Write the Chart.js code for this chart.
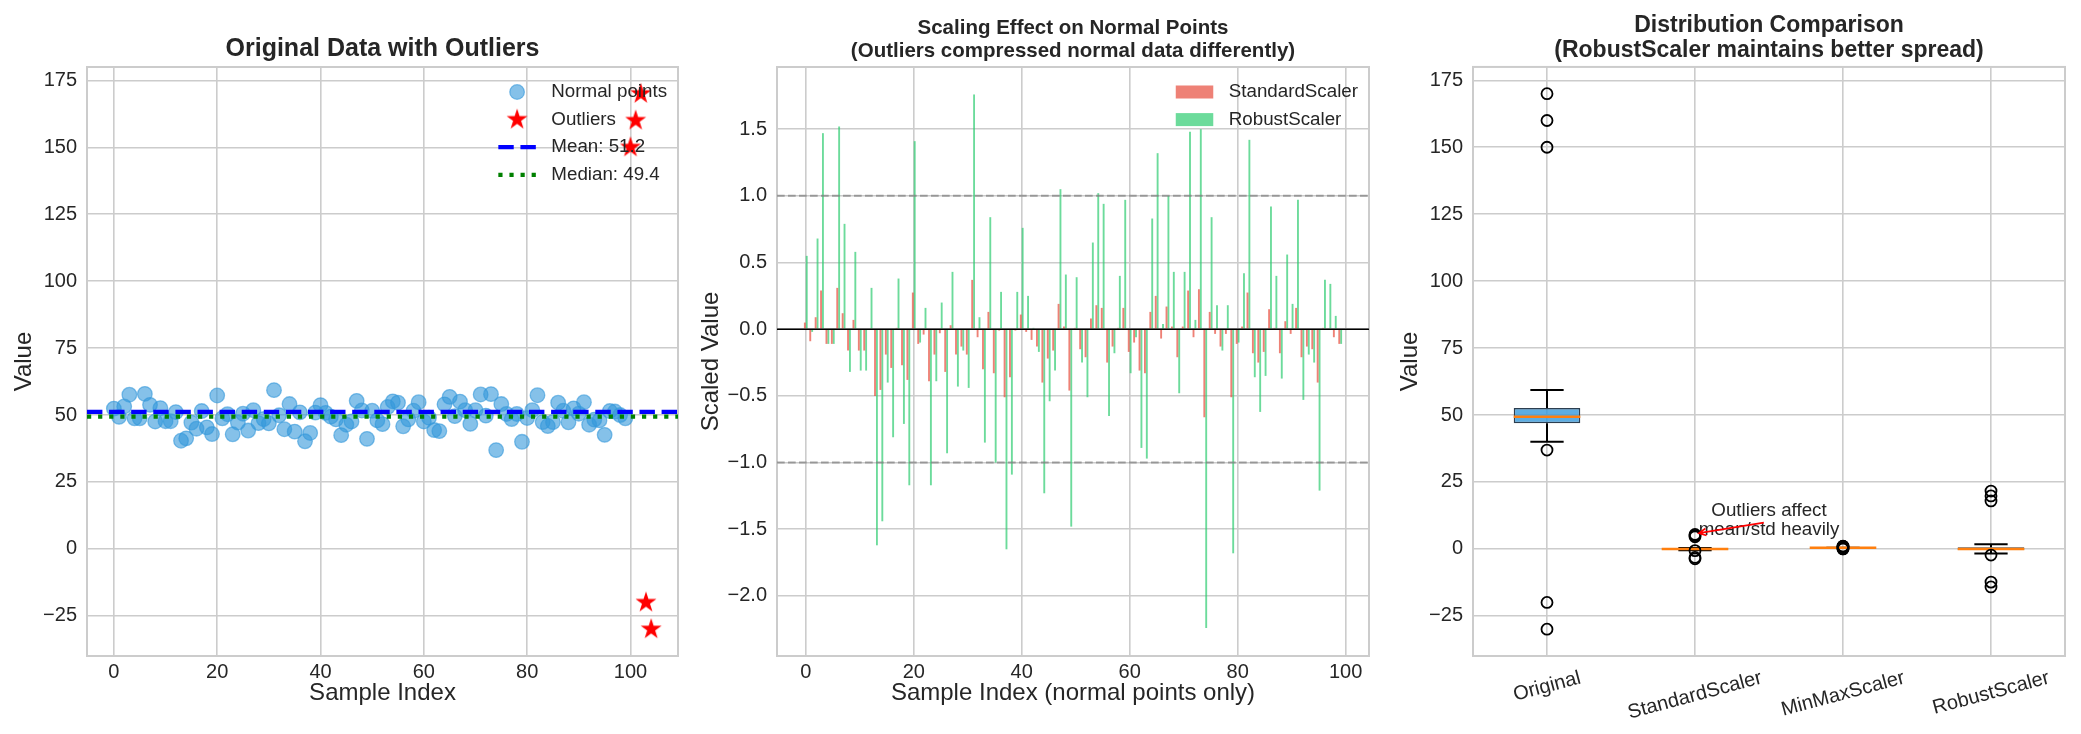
<!DOCTYPE html>
<html lang="en">
<head>
<meta charset="utf-8">
<title>Outlier scaling comparison</title>
<script src="https://cdn.jsdelivr.net/npm/chart.js@4.4.1/dist/chart.umd.min.js"></script>
<style>
  body { margin: 0; background: #ffffff; }
  #figure { position: relative; width: 2081px; height: 734px; background: #ffffff; overflow: hidden; }
  #figure canvas { position: absolute; top: 0; }
</style>
</head>
<body>
<div id="figure">
  <canvas id="originalChart" width="690" height="734" style="left: 0px;"></canvas>
  <canvas id="scaledChart" width="700" height="734" style="left: 690px;"></canvas>
  <canvas id="boxChart" width="691" height="734" style="left: 1390px;"></canvas>
</div>
<script>
const FONT = "'Liberation Sans', Arial, Helvetica, sans-serif";
const TEXT = "#262626";
const GRID = "#cccccc";

// Panel 1: sample values (index 0-99 normal points, 100-104 outliers)
const normalValues = [
  52.4, 49.3, 53.2, 57.6, 48.8, 48.8, 57.9, 53.8, 47.6, 52.6,
  47.7, 47.7, 51.1, 40.4, 41.3, 47.2, 44.9, 51.5, 45.4, 42.9,
  57.3, 48.8, 50.3, 42.8, 47.2, 50.5, 44.2, 51.8, 47.0, 48.5,
  46.9, 59.3, 49.9, 44.7, 54.1, 43.8, 51.0, 40.2, 43.3, 50.9,
  53.7, 50.8, 49.4, 48.4, 42.5, 46.4, 47.6, 55.3, 51.7, 41.1,
  51.6, 48.0, 46.6, 53.0, 55.1, 54.6, 45.8, 48.4, 51.6, 54.8,
  47.6, 49.0, 44.4, 44.0, 54.0, 56.8, 49.6, 55.0, 51.8, 46.7,
  51.8, 57.7, 49.8, 57.8, 36.9, 54.1, 50.4, 48.5, 50.4, 40.0,
  48.9, 51.8, 57.4, 47.4, 45.9, 47.4, 54.6, 51.6, 47.3, 52.5,
  50.5, 54.8, 46.4, 48.3, 48.0, 42.6, 51.5, 51.3, 50.0, 48.8
];
const outlierIndex = [100, 101, 102, 103, 104];
const outlierValues = [150, 160, 170, -20, -30];
const meanValue = 51.2;
const medianValue = 49.4;

// Panel 2: scaled values of the normal points
const standardScaled = [
  0.05, -0.09, 0.09, 0.29, -0.11, -0.11, 0.31, 0.12, -0.16, 0.07,
  -0.16, -0.16, -0.005, -0.50, -0.455, -0.19, -0.29, 0.01, -0.27, -0.38,
  0.275, -0.11, -0.04, -0.39, -0.19, -0.03, -0.32, 0.03, -0.19, -0.13,
  -0.19, 0.37, -0.06, -0.30, 0.13, -0.33, -0.01, -0.51, -0.36, -0.01,
  0.11, -0.02, -0.08, -0.13, -0.40, -0.22, -0.16, 0.19, 0.02, -0.46,
  0.01, -0.15, -0.21, 0.08, 0.18, 0.16, -0.25, -0.13, 0.01, 0.16,
  -0.17, -0.10, -0.31, -0.33, 0.13, 0.25, -0.07, 0.17, 0.02, -0.21,
  0.02, 0.29, -0.06, 0.30, -0.66, 0.13, -0.035, -0.13, -0.035, -0.51,
  -0.11, 0.02, 0.275, -0.18, -0.25, -0.17, 0.15, 0.01, -0.18, 0.06,
  -0.035, 0.16, -0.21, -0.13, -0.15, -0.40, 0.01, 0.005, -0.06, -0.11
];
const robustScaled = [
  0.55, -0.02, 0.68, 1.47, -0.11, -0.11, 1.52, 0.79, -0.32, 0.58,
  -0.31, -0.31, 0.31, -1.62, -1.44, -0.40, -0.81, 0.38, -0.71, -1.17,
  1.41, -0.10, 0.16, -1.17, -0.39, 0.20, -0.93, 0.43, -0.43, -0.16,
  -0.44, 1.76, 0.09, -0.85, 0.84, -1.00, 0.28, -1.65, -1.09, 0.28,
  0.76, 0.25, 0.01, -0.17, -1.23, -0.54, -0.31, 1.05, 0.41, -1.48,
  0.39, -0.25, -0.51, 0.65, 1.02, 0.94, -0.65, -0.18, 0.40, 0.97,
  -0.33, -0.06, -0.89, -0.97, 0.83, 1.32, 0.04, 1.00, 0.43, -0.48,
  0.43, 1.48, 0.07, 1.50, -2.24, 0.84, 0.18, -0.16, 0.18, -1.68,
  -0.10, 0.42, 1.42, -0.36, -0.62, -0.35, 0.92, 0.40, -0.37, 0.56,
  0.19, 0.97, -0.53, -0.19, -0.25, -1.21, 0.37, 0.34, 0.10, -0.11
];

// Panel 3: box plot summaries
const boxLabels = ["Original", "StandardScaler", "MinMaxScaler", "RobustScaler"];
const whiskerLow = [40.0, -0.51, 0.35, -1.68];
const quartile1 = [46.9, -0.20, 0.385, -0.45];
const medians = [49.4, -0.08, 0.397, 0.0];
const quartile3 = [52.6, 0.06, 0.413, 0.57];
const whiskerHigh = [59.3, 0.37, 0.447, 1.77];
const fliers = [
  [170, 160, 150, 36.9, -20, -30],
  [5.4, 5.0, 4.5, -0.65, -3.2, -3.7],
  [1.0, 0.95, 0.9, 0.33, 0.05, 0.0],
  [21.6, 19.8, 17.9, -2.3, -12.4, -14.2]
];
const annotationText = ["Outliers affect", "mean/std heavily"];

// Tick values
const indexTicks = [0, 20, 40, 60, 80, 100];
const valueTicks = [-25, 0, 25, 50, 75, 100, 125, 150, 175];
const scaledTicks = [-2.0, -1.5, -1.0, -0.5, 0.0, 0.5, 1.0, 1.5];

// Colours
const BLUE_POINT = "rgba(52, 152, 219, 0.6)";
const RED_BAR = "rgba(231, 76, 60, 0.7)";
const GREEN_BAR = "rgba(46, 204, 113, 0.7)";
const BOX_FILLS = ["rgba(52, 152, 219, 0.8)", "rgba(231, 76, 60, 0.7)", "rgba(243, 156, 18, 0.7)", "rgba(46, 204, 113, 0.7)"];
const BOX_WIDTH = 0.45;

Chart.defaults.font.family = FONT;
Chart.defaults.color = TEXT;

function minus(text) {
  return String(text).replace("-", "\u2212");
}

// Filled five-point star used as a point style
function makeStar(radius, color) {
  const size = Math.ceil(radius * 2 + 4);
  const c = document.createElement("canvas");
  c.width = size;
  c.height = size;
  const g = c.getContext("2d");
  g.beginPath();
  for (let k = 0; k < 10; k++) {
    const r = k % 2 === 0 ? radius : radius * 0.382;
    const a = -Math.PI / 2 + k * Math.PI / 5;
    const px = size / 2 + r * Math.cos(a);
    const py = size / 2 + r * Math.sin(a);
    if (k === 0) g.moveTo(px, py); else g.lineTo(px, py);
  }
  g.closePath();
  g.fillStyle = color;
  g.fill();
  return c;
}
const star = makeStar(11, "#ff0000");

// Linear scale with fixed ticks and a fixed box size
function makeScale({ min, max, ticks, width, height, title, titlePad, format, showTicks = true }) {
  return {
    type: "linear",
    min: min,
    max: max,
    offset: false,
    grid: { color: GRID, lineWidth: 1.6, drawTicks: false, offset: false },
    border: { display: false },
    ticks: {
      display: showTicks,
      color: TEXT,
      font: { size: 20 },
      padding: width ? 10 : 4,
      maxRotation: 0,
      callback: format || (v => minus(v))
    },
    title: title
      ? { display: true, text: title, color: TEXT, font: { size: 24 }, padding: titlePad }
      : { display: false },
    afterBuildTicks: scale => { scale.ticks = ticks.map(v => ({ value: v })); },
    afterFit: scale => {
      if (width) { scale.width = width; scale.paddingTop = 0; scale.paddingBottom = 0; }
      if (height) { scale.height = height; scale.paddingLeft = 0; scale.paddingRight = 0; }
    }
  };
}

function makeTitle(text, size, lineHeight, padTop, padBottom) {
  return {
    display: true,
    text: text,
    fullSize: false,
    color: TEXT,
    font: { size: size, weight: "bold", lineHeight: lineHeight },
    padding: { top: padTop, bottom: padBottom }
  };
}

// Frame round the plot area (all four spines)
const framePlugin = {
  id: "frame",
  beforeDatasetsDraw(chart) {
    const { ctx, chartArea: a } = chart;
    ctx.save();
    ctx.strokeStyle = GRID;
    ctx.lineWidth = 2;
    ctx.strokeRect(a.left, a.top, a.right - a.left, a.bottom - a.top);
    ctx.restore();
  }
};

// Horizontal reference lines across the whole plot area
function refLines(lines) {
  return {
    id: "refLines",
    afterDatasetsDraw(chart) {
      const { ctx, chartArea: a, scales: { y } } = chart;
      ctx.save();
      ctx.beginPath();
      ctx.rect(a.left, a.top, a.right - a.left, a.bottom - a.top);
      ctx.clip();
      lines.forEach(line => {
        const py = y.getPixelForValue(line.value);
        ctx.strokeStyle = line.color;
        ctx.lineWidth = line.width;
        ctx.setLineDash(line.dash || []);
        ctx.beginPath();
        ctx.moveTo(a.left, py);
        ctx.lineTo(a.right, py);
        ctx.stroke();
      });
      ctx.restore();
    }
  };
}

// Legend drawn inside the upper right corner of the plot area
function insideLegend(items) {
  return {
    id: "insideLegend",
    afterDraw(chart) {
      const { ctx, chartArea: a } = chart;
      ctx.save();
      ctx.font = "18.75px " + FONT;
      const widest = Math.max(...items.map(item => ctx.measureText(item.text).width));
      const textX = a.right - 11 - widest;
      const right = textX - 15.5;
      const left = right - 37.5;
      items.forEach((item, i) => {
        const cy = a.top + 25 + i * 27.6;
        ctx.save();
        item.draw(ctx, left, right, cy);
        ctx.restore();
        ctx.fillStyle = TEXT;
        ctx.textAlign = "left";
        ctx.textBaseline = "middle";
        ctx.fillText(item.text, textX, cy);
      });
      ctx.restore();
    }
  };
}

function lineHandle(color, width, dash) {
  return (ctx, left, right, cy) => {
    ctx.strokeStyle = color;
    ctx.lineWidth = width;
    ctx.setLineDash(dash);
    ctx.beginPath();
    ctx.moveTo(left, cy);
    ctx.lineTo(right, cy);
    ctx.stroke();
  };
}

function rectHandle(color) {
  return (ctx, left, right, cy) => {
    ctx.fillStyle = color;
    ctx.fillRect(left, cy - 6.5, right - left, 13);
  };
}

// ---------- Panel 1: original data ----------
new Chart(document.getElementById("originalChart"), {
  type: "scatter",
  data: {
    datasets: [
      {
        label: "Normal points",
        data: normalValues.map((v, i) => ({ x: i, y: v })),
        backgroundColor: BLUE_POINT,
        borderColor: BLUE_POINT,
        borderWidth: 1.3,
        pointRadius: 7.3,
        order: 1
      },
      {
        label: "Outliers",
        data: outlierIndex.map((x, k) => ({ x: x, y: outlierValues[k] })),
        pointStyle: star,
        pointRadius: 11,
        order: 0
      }
    ]
  },
  options: {
    responsive: false,
    animation: false,
    devicePixelRatio: 1,
    events: [],
    layout: { padding: { left: 0, right: 11, top: 0, bottom: 0 } },
    plugins: {
      legend: { display: false },
      tooltip: { enabled: false },
      title: makeTitle("Original Data with Outliers", 25, 1.2, 34.3, 2.7)
    },
    scales: {
      x: makeScale({ min: -5.2, max: 109.2, ticks: indexTicks, height: 78, title: "Sample Index", titlePad: { top: 0, bottom: 26.6 } }),
      y: makeScale({ min: -40, max: 180, ticks: valueTicks, width: 87, title: "Value", titlePad: { top: 9.6, bottom: 0 } })
    }
  },
  plugins: [
    framePlugin,
    refLines([
      { value: meanValue, color: "#0000ff", width: 4.2, dash: [15.4, 6.7] },
      { value: medianValue, color: "#008000", width: 4.2, dash: [4.2, 6.9] }
    ]),
    insideLegend([
      {
        text: "Normal points",
        draw: (ctx, left, right, cy) => {
          ctx.beginPath();
          ctx.arc((left + right) / 2, cy, 7.3, 0, Math.PI * 2);
          ctx.fillStyle = BLUE_POINT;
          ctx.fill();
          ctx.strokeStyle = BLUE_POINT;
          ctx.lineWidth = 1.3;
          ctx.stroke();
        }
      },
      {
        text: "Outliers",
        draw: (ctx, left, right, cy) => {
          ctx.drawImage(star, (left + right) / 2 - star.width / 2, cy - star.height / 2);
        }
      },
      { text: "Mean: " + meanValue.toFixed(1), draw: lineHandle("#0000ff", 4.2, [15.4, 6.7]) },
      { text: "Median: " + medianValue.toFixed(1), draw: lineHandle("#008000", 4.2, [4.2, 6.9]) }
    ])
  ]
});

// ---------- Panel 2: scaled normal points ----------
new Chart(document.getElementById("scaledChart"), {
  type: "bar",
  data: {
    datasets: [
      {
        label: "StandardScaler",
        data: standardScaled.map((v, i) => ({ x: i, y: v })),
        backgroundColor: RED_BAR,
        borderWidth: 0,
        categoryPercentage: 0.7,
        barPercentage: 1.0
      },
      {
        label: "RobustScaler",
        data: robustScaled.map((v, i) => ({ x: i, y: v })),
        backgroundColor: GREEN_BAR,
        borderWidth: 0,
        categoryPercentage: 0.7,
        barPercentage: 1.0
      }
    ]
  },
  options: {
    responsive: false,
    animation: false,
    devicePixelRatio: 1,
    events: [],
    layout: { padding: { left: 0, right: 21, top: 0, bottom: 0 } },
    plugins: {
      legend: { display: false },
      tooltip: { enabled: false },
      title: makeTitle(["Scaling Effect on Normal Points", "(Outliers compressed normal data differently)"], 20.5, 1.1, 17.2, 4.7)
    },
    scales: {
      x: makeScale({ min: -5.335, max: 104.335, ticks: indexTicks, height: 78, title: "Sample Index (normal points only)", titlePad: { top: 0, bottom: 26.6 } }),
      y: makeScale({ min: -2.45, max: 1.966, ticks: scaledTicks, width: 87, title: "Scaled Value", titlePad: { top: 6.6, bottom: 0 }, format: v => minus(v.toFixed(1)) })
    }
  },
  plugins: [
    framePlugin,
    refLines([
      { value: 0, color: "#000000", width: 1.4 },
      { value: 1, color: "rgba(128, 128, 128, 0.7)", width: 2, dash: [7.7, 3.3] },
      { value: -1, color: "rgba(128, 128, 128, 0.7)", width: 2, dash: [7.7, 3.3] }
    ]),
    insideLegend([
      { text: "StandardScaler", draw: rectHandle(RED_BAR) },
      { text: "RobustScaler", draw: rectHandle(GREEN_BAR) }
    ])
  ]
});

// ---------- Panel 3: distribution comparison ----------
const whiskerPlugin = {
  id: "whiskers",
  afterDatasetDraw(chart, args) {
    if (args.index !== 1) return;
    const { ctx, scales: { x, y } } = chart;
    ctx.save();
    boxLabels.forEach((label, k) => {
      const cx = x.getPixelForValue(k + 1);
      const halfBox = x.getPixelForValue(k + 1 + BOX_WIDTH / 2) - cx;
      const halfCap = halfBox / 2;
      const segment = (x0, y0, x1, y1) => {
        ctx.beginPath();
        ctx.moveTo(x0, y0);
        ctx.lineTo(x1, y1);
        ctx.stroke();
      };
      ctx.strokeStyle = "#000000";
      ctx.lineWidth = 2;
      segment(cx, y.getPixelForValue(quartile3[k]), cx, y.getPixelForValue(whiskerHigh[k]));
      segment(cx, y.getPixelForValue(quartile1[k]), cx, y.getPixelForValue(whiskerLow[k]));
      segment(cx - halfCap, y.getPixelForValue(whiskerHigh[k]), cx + halfCap, y.getPixelForValue(whiskerHigh[k]));
      segment(cx - halfCap, y.getPixelForValue(whiskerLow[k]), cx + halfCap, y.getPixelForValue(whiskerLow[k]));
      ctx.strokeStyle = "#ff7f0e";
      ctx.lineWidth = 2.5;
      segment(cx - halfBox, y.getPixelForValue(medians[k]), cx + halfBox, y.getPixelForValue(medians[k]));
    });
    ctx.restore();
  }
};

// Category names under the boxes, rotated 15 degrees about their centre
const rotatedLabels = {
  id: "rotatedLabels",
  afterDraw(chart) {
    const { ctx, chartArea: a, scales: { x } } = chart;
    const rot = 15 * Math.PI / 180;
    ctx.save();
    ctx.font = "20px " + FONT;
    ctx.fillStyle = TEXT;
    ctx.textAlign = "center";
    ctx.textBaseline = "middle";
    boxLabels.forEach((label, k) => {
      const w = ctx.measureText(label).width;
      const boxH = w * Math.sin(rot) + 20 * Math.cos(rot);
      ctx.save();
      ctx.translate(x.getPixelForValue(k + 1), a.bottom + 12 + boxH / 2);
      ctx.rotate(-rot);
      ctx.fillText(label, 0, 0);
      ctx.restore();
    });
    ctx.restore();
  }
};

const annotationPlugin = {
  id: "annotation",
  afterDatasetsDraw(chart) {
    const { ctx, scales: { x, y } } = chart;
    ctx.save();
    ctx.font = "18.75px " + FONT;
    ctx.fillStyle = TEXT;
    ctx.textAlign = "center";
    ctx.textBaseline = "middle";
    ctx.fillText(annotationText[0], x.getPixelForValue(2.5), y.getPixelForValue(14.4));
    ctx.fillText(annotationText[1], x.getPixelForValue(2.5), y.getPixelForValue(7.0));
    // arrow towards the StandardScaler fliers
    const x0 = x.getPixelForValue(2.465), y0 = y.getPixelForValue(9.8);
    const x1 = x.getPixelForValue(2.026), y1 = y.getPixelForValue(5.9);
    const ang = Math.atan2(y1 - y0, x1 - x0);
    ctx.strokeStyle = "#ff0000";
    ctx.lineWidth = 1.6;
    ctx.beginPath();
    ctx.moveTo(x0, y0);
    ctx.lineTo(x1, y1);
    ctx.moveTo(x1 - 8 * Math.cos(ang - 0.45), y1 - 8 * Math.sin(ang - 0.45));
    ctx.lineTo(x1, y1);
    ctx.lineTo(x1 - 8 * Math.cos(ang + 0.45), y1 - 8 * Math.sin(ang + 0.45));
    ctx.stroke();
    ctx.restore();
  }
};

new Chart(document.getElementById("boxChart"), {
  type: "scatter",
  data: {
    datasets: [
      {
        type: "scatter",
        label: "fliers",
        data: fliers.flatMap((values, k) => values.map(v => ({ x: k + 1, y: v }))),
        pointStyle: "circle",
        pointRadius: 5.5,
        backgroundColor: "rgba(0, 0, 0, 0)",
        borderColor: "#000000",
        borderWidth: 1.8
      },
      {
        type: "bar",
        label: "boxes",
        data: quartile1.map((q, k) => ({ x: k + 1, y: [q, quartile3[k]] })),
        backgroundColor: BOX_FILLS,
        borderColor: "#2c3e50",
        borderWidth: 1.5,
        borderSkipped: false,
        categoryPercentage: 1.0,
        barPercentage: BOX_WIDTH
      }
    ]
  },
  options: {
    responsive: false,
    animation: false,
    devicePixelRatio: 1,
    events: [],
    layout: { padding: { left: 0, right: 16, top: 0, bottom: 0 } },
    plugins: {
      legend: { display: false },
      tooltip: { enabled: false },
      title: makeTitle(["Distribution Comparison", "(RobustScaler maintains better spread)"], 23, 1.09, 13.35, 3.45)
    },
    scales: {
      x: makeScale({ min: 0.5, max: 4.5, ticks: [1, 2, 3, 4], height: 78, showTicks: false }),
      y: makeScale({ min: -40, max: 180, ticks: valueTicks, width: 83, title: "Value", titlePad: { top: 5.6, bottom: 0 } })
    }
  },
  plugins: [framePlugin, whiskerPlugin, annotationPlugin, rotatedLabels]
});
</script>
</body>
</html>
